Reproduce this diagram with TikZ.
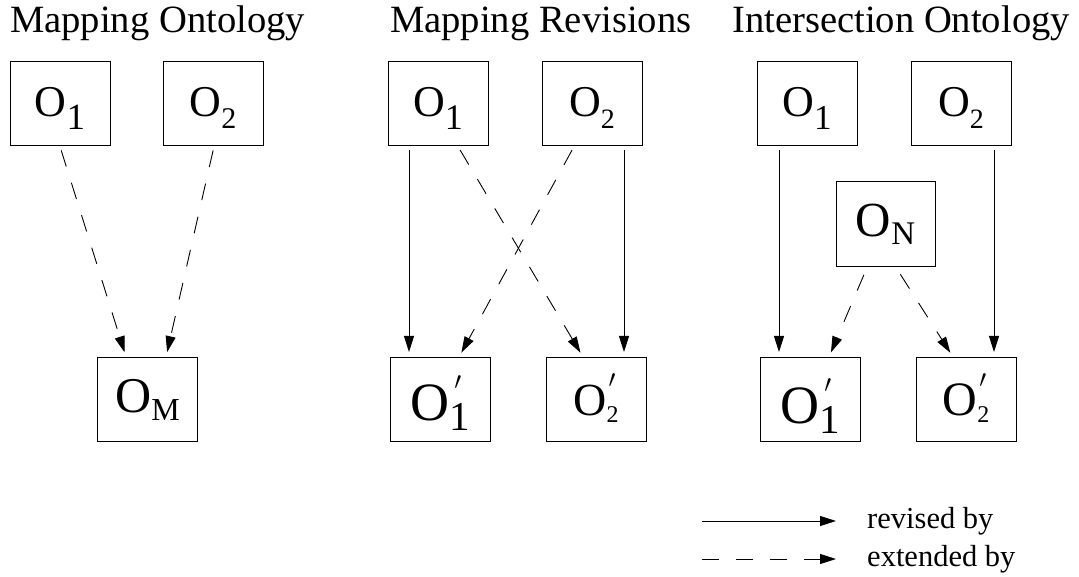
\documentclass[tikz,border=0pt]{standalone}
\usepackage{fontspec}
\setmainfont{Liberation Serif}
\usetikzlibrary{arrows.meta}

% O with subscript: O size, sub size, drop, sub
\newcommand{\osub}[4]{%
{\fontsize{#1pt}{#1pt}\selectfont O}%
{\fontsize{#2pt}{#2pt}\selectfont\raisebox{-#3pt}{#4}}}
% O with subscript and prime: ..., prime shift, prime raise
\newcommand{\oprm}[6]{%
{\fontsize{#1pt}{#1pt}\selectfont O}%
\rlap{\hspace{#5pt}\smash{\raisebox{#6pt}{\fontsize{24.88pt}{24.88pt}\selectfont$\prime$}}}%
{\fontsize{#2pt}{#2pt}\selectfont\raisebox{-#3pt}{#4}}}

\begin{document}
\begin{tikzpicture}[
x=1pt, y=-1pt,
every node/.style={font=\fontsize{38.6pt}{40pt}\selectfont},
onto/.style={draw, line width=1pt, minimum width=100pt, minimum height=84pt,
  inner sep=0pt, text depth=0pt, text height=#1},
onto/.default=26pt,
title/.style={anchor=base west, inner sep=0pt},
legend/.style={anchor=base west, inner sep=0pt, font=\fontsize{30.5pt}{32pt}\selectfont},
rev/.style={line width=0.9pt, -{Triangle[length=16pt,width=10pt]}, shorten <=4pt, shorten >=5pt},
ext/.style={rev, dash pattern=on 17pt off 17pt}
]
\useasboundingbox (0,0) rectangle (1079,577);

\path
(10,33) node[title] (tmap) {Mapping Ontology}
(390,33) node[title] (trev) {Mapping Revisions}
(732,33) node[title] (tint) {Intersection Ontology}
;

% mapping ontology
\node[onto] (mo1) at (60,104) {\osub{44}{37}{13}{1}};
\node[onto] (mo2) at (213,104) {\osub{44}{30}{12}{2}};
\node[onto=25pt] (mom) at (147.5,399.5) {\osub{50}{32}{8}{M}};

\draw[ext] (mo1.south) -- ([xshift=-21.5pt]mom.north);
\draw[ext] ([xshift=1pt]mo2.south) -- ([xshift=18.5pt]mom.north);

% mapping revisions
\node[onto] (ro1) at (438,104) {\osub{44}{36}{13}{1}};
\node[onto] (ro2) at (592,104) {\osub{44}{28}{12}{2}};
\node[onto=41pt] (ro1p) at (440,399.5) {\oprm{54}{41}{10}{1}{5}{31}};
\node[onto=31pt] (ro2p) at (596,399.5) {\oprm{46}{24}{7}{2}{2}{28}};

\draw[rev] ([xshift=-29pt]ro1.south) -- ([xshift=-31pt]ro1p.north);
\draw[ext] ([xshift=20pt]ro1.south) -- ([xshift=-13pt]ro2p.north);
\draw[ext] ([xshift=-18pt]ro2.south) -- ([xshift=19pt]ro1p.north);
\draw[rev] ([xshift=32pt]ro2.south) -- ([xshift=28pt]ro2p.north);

% intersection ontology
\node[onto] (io1) at (807,104) {\osub{44}{35}{13}{1}};
\node[onto] (io2) at (961,104) {\osub{44}{28}{12}{2}};
\node[onto=25pt, minimum width=99pt, minimum height=85pt] (ion) at (885.5,224.5) {\osub{49}{33}{8}{N}};
\node[onto=47pt] (io1p) at (810,399.5) {\oprm{54}{41}{10}{1}{5}{31}};
\node[onto=31pt] (io2p) at (966,399.5) {\oprm{48}{24}{7}{2}{2}{28}};

\draw[rev] ([xshift=-28pt]io1.south) -- ([xshift=-31pt]io1p.north);
\draw[rev] ([xshift=33pt]io2.south) -- ([xshift=28pt]io2p.north);
\draw[ext, shorten <=8pt] ([xshift=-18.5pt]ion.south) -- ([xshift=19pt]io1p.north);
\draw[ext, shorten <=8pt] ([xshift=10.5pt]ion.south) -- ([xshift=-13pt]io2p.north);

% legend
\node[legend] (lrev) at (867,528) {revised by};
\node[legend] (lext) at (867,566) {extended by};
\coordinate (revA) at (702,521);
\coordinate (revB) at (836,521);
\coordinate (extA) at (702,559);
\coordinate (extB) at (836,559);
\draw[rev, shorten <=0pt, shorten >=0pt] (revA) -- (revB);
\draw[ext, shorten <=0pt, shorten >=0pt] (extA) -- (extB);

\end{tikzpicture}
\end{document}
